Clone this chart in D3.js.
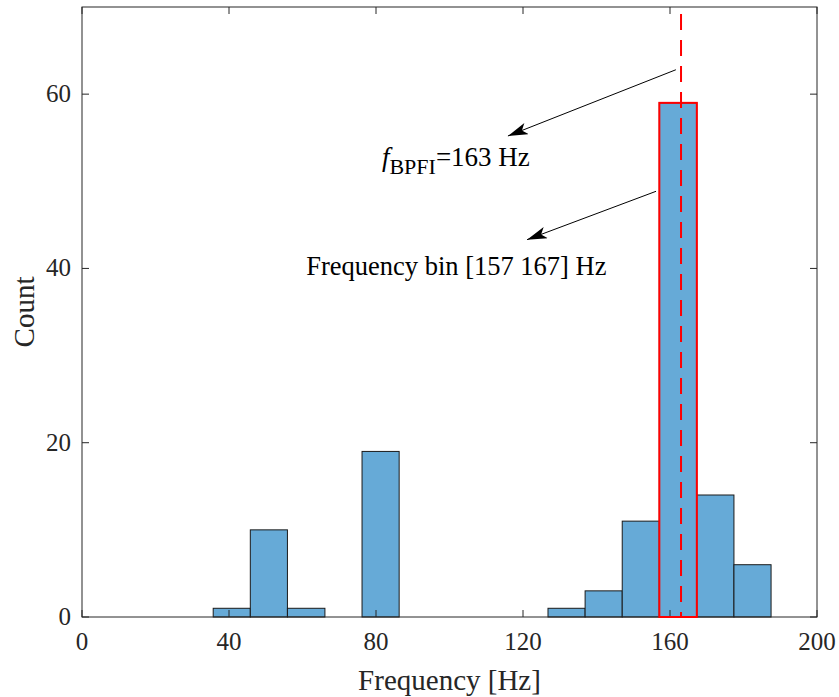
<!DOCTYPE html>
<html><head><meta charset="utf-8">
<script src="https://cdn.jsdelivr.net/npm/d3@7"></script>
<style>body{margin:0;background:#fff}svg text{font-family:"Liberation Serif","Times New Roman","DejaVu Serif",serif;fill:#262626}</style>
</head><body>
<svg id="c" width="839" height="697" font-family="Liberation Serif, serif"></svg>
<script>
const binEdges = [35.7,45.8,55.9,66.1,76.2,86.3,96.4,106.5,116.7,126.8,136.9,147.0,157.1,167.3,177.4,187.5];
const counts   = [1,10,1,0,19,0,0,0,0,1,3,11,59,14,6];
const xTicks = [0,40,80,120,160,200];
const yTicks = [0,20,40,60];
const highlightIndex = 12;
const fBPFI = 163;
const arrows = [
  {x1:161.6,y1:62.8,x2:115.9,y2:55.2},
  {x1:156.2,y1:48.85,x2:121.1,y2:43.3}
];

const svg = d3.select("#c");
const L=82,R=817,T=7,B=617;
const x = d3.scaleLinear().domain([0,200]).range([L,R]);
const y = d3.scaleLinear().domain([0,70]).range([B,T]);
const bins = counts.map((c,i)=>({x0:binEdges[i],x1:binEdges[i+1],c}));

svg.append("g").selectAll("rect").data(bins).join("rect")
  .attr("x",d=>x(d.x0)).attr("width",d=>x(d.x1)-x(d.x0))
  .attr("y",d=>y(d.c)).attr("height",d=>y(0)-y(d.c))
  .attr("fill","#66aad7").attr("stroke","#1a1a1a").attr("stroke-width",1);

// axes box
const ax = svg.append("g").attr("stroke","#262626").attr("fill","none").attr("stroke-width",1);
ax.append("rect").attr("x",L).attr("y",T).attr("width",R-L).attr("height",B-T);
xTicks.forEach(t=>{
  ax.append("line").attr("x1",x(t)).attr("x2",x(t)).attr("y1",B).attr("y2",B-7);
  ax.append("line").attr("x1",x(t)).attr("x2",x(t)).attr("y1",T).attr("y2",T+7);
});
yTicks.forEach(t=>{
  ax.append("line").attr("x1",L).attr("x2",L+7).attr("y1",y(t)).attr("y2",y(t));
  ax.append("line").attr("x1",R).attr("x2",R-7).attr("y1",y(t)).attr("y2",y(t));
});

// highlighted bin
const hb = bins[highlightIndex];
svg.append("rect").attr("x",x(hb.x0)).attr("width",x(hb.x1)-x(hb.x0))
  .attr("y",y(hb.c)).attr("height",y(0)-y(hb.c))
  .attr("fill","none").attr("stroke","#ff0000").attr("stroke-width",2);
svg.append("line").attr("x1",x(fBPFI)).attr("x2",x(fBPFI)).attr("y1",T+7).attr("y2",B)
  .attr("stroke","#ff0000").attr("stroke-width",2).attr("stroke-dasharray","16,10");

// tick labels
svg.append("g").selectAll("text").data(xTicks).join("text")
  .attr("x",d=>x(d)).attr("y",650).attr("text-anchor","middle").attr("font-size",25).text(d=>d);
svg.append("g").selectAll("text").data(yTicks).join("text")
  .attr("x",71).attr("y",d=>y(d)+8).attr("text-anchor","end").attr("font-size",25).text(d=>d);
svg.append("text").attr("x",(L+R)/2).attr("y",690).attr("text-anchor","middle").attr("font-size",29).text("Frequency [Hz]");
svg.append("text").attr("transform","translate(34,"+((T+B)/2)+") rotate(-90)").attr("text-anchor","middle").attr("font-size",29).text("Count");

// arrows
const defs = svg.append("defs");
defs.append("marker").attr("id","ah").attr("viewBox","0 0 20 12").attr("refX",20).attr("refY",6)
  .attr("markerWidth",20).attr("markerHeight",12).attr("markerUnits","userSpaceOnUse").attr("orient","auto")
  .append("path").attr("d","M0,0 L20,6 L0,12 L5,6 Z").attr("fill","#000");
arrows.forEach(a=>{
  svg.append("line").attr("x1",x(a.x1)).attr("y1",y(a.y1)).attr("x2",x(a.x2)).attr("y2",y(a.y2))
    .attr("stroke","#000").attr("stroke-width",1).attr("marker-end","url(#ah)");
});

// annotation text
const t1 = svg.append("text").attr("x",x(81.6)).attr("y",y(51.7)).attr("font-size",27).style("fill","#000");
t1.append("tspan").attr("font-style","italic").text("f");
t1.append("tspan").attr("dy",8).attr("font-size",22).text("BPFI");
t1.append("tspan").attr("dy",-8).text("=163 Hz");
svg.append("text").attr("x",x(61.0)).attr("y",y(39.3)).attr("font-size",26.5).style("fill","#000").text("Frequency bin [157 167] Hz");
</script>
</body></html>
